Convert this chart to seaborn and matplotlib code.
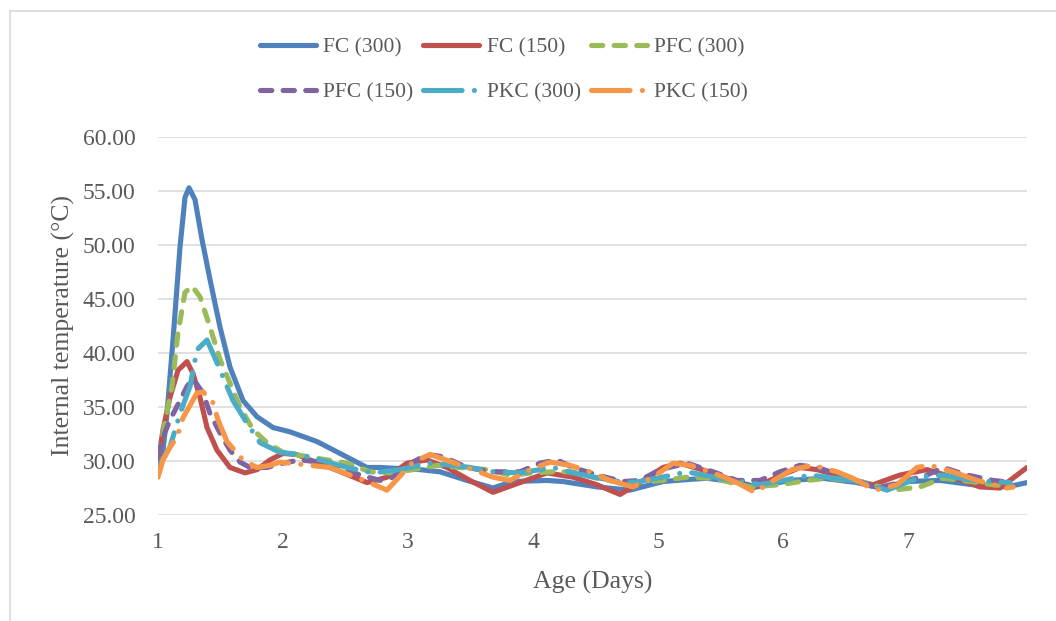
import matplotlib
matplotlib.use("Agg")
import matplotlib.pyplot as plt
from matplotlib.lines import Line2D
import seaborn as sns
import pandas as pd

# ---------------- data ----------------
fc300_x = [1.000, 1.040, 1.072, 1.120, 1.176, 1.216, 1.248, 1.296, 1.352, 1.416, 1.496, 1.576,
           1.680, 1.792, 1.920, 2.056, 2.272, 2.456, 2.672, 2.776, 3.096, 3.256, 3.472, 3.680,
           3.840, 4.112, 4.240, 4.512, 4.776, 5.040, 5.256, 5.392, 5.656, 5.792, 6.056, 6.320,
           6.592, 6.776, 6.992, 7.256, 7.520, 7.792, 7.952]
fc300_y = [29.6, 31.0, 34.4, 41.2, 49.8, 54.4, 55.3, 54.2, 50.5, 46.8, 42.4, 38.7,
           35.6, 34.1, 33.1, 32.7, 31.8, 30.7, 29.4, 29.4, 29.2, 29.0, 28.2, 27.5,
           28.1, 28.2, 28.1, 27.6, 27.3, 28.1, 28.3, 28.4, 28.0, 27.6, 28.2, 28.4,
           28.0, 27.5, 28.1, 28.2, 27.8, 27.6, 28.0]

fc150_x = [1.000, 1.040, 1.096, 1.160, 1.232, 1.280, 1.336, 1.392, 1.472, 1.576, 1.696, 1.792,
           1.896, 2.000, 2.112, 2.216, 2.376, 2.672, 2.832, 2.992, 3.152, 3.312, 3.496, 3.680,
           3.896, 4.112, 4.320, 4.512, 4.696, 4.856, 5.040, 5.176, 5.232, 5.440, 5.760, 5.952,
           6.136, 6.272, 6.512, 6.720, 6.936, 7.152, 7.360, 7.576, 7.736, 7.952]
fc150_y = [29.8, 32.9, 35.9, 38.4, 39.2, 38.1, 35.9, 33.1, 31.0, 29.4, 28.9, 29.2,
           30.1, 30.7, 30.6, 30.1, 29.4, 28.0, 28.5, 29.8, 30.1, 29.4, 28.2, 27.1,
           28.0, 28.9, 28.5, 27.8, 26.9, 28.0, 29.4, 29.8, 29.6, 28.9, 27.5, 28.5,
           29.4, 29.2, 28.4, 27.8, 28.7, 29.2, 28.5, 27.6, 27.5, 29.4]

pfc300_x = [1.000, 1.040, 1.112, 1.160, 1.216, 1.272, 1.336, 1.416, 1.496, 1.576, 1.656, 1.760,
            1.872, 2.000, 2.192, 2.352, 2.512, 2.696, 2.856, 3.040, 3.232, 3.416, 3.632, 3.816,
            4.000, 4.160, 4.320, 4.512, 4.696, 4.912, 5.040, 5.232, 5.440, 5.736, 5.976, 6.192,
            6.352, 6.616, 6.880, 7.096, 7.280, 7.496, 7.680, 7.840]
pfc300_y = [30.4, 32.6, 36.9, 41.9, 45.6, 46.2, 45.2, 42.4, 39.4, 37.2, 35.0, 32.9,
            31.7, 30.8, 30.4, 30.1, 29.8, 29.0, 28.9, 29.2, 29.6, 29.4, 29.2, 28.7,
            28.9, 29.0, 29.0, 28.4, 28.0, 28.1, 28.2, 28.5, 28.4, 27.6, 27.8, 28.2,
            28.4, 28.1, 27.3, 27.6, 28.4, 28.1, 27.8, 27.6]

pfc150_x = [1.000, 1.040, 1.096, 1.176, 1.232, 1.280, 1.360, 1.416, 1.496, 1.576, 1.656, 1.736,
            1.872, 2.000, 2.136, 2.296, 2.456, 2.616, 2.776, 2.880, 2.992, 3.152, 3.280, 3.472,
            3.680, 3.896, 4.056, 4.192, 4.320, 4.512, 4.720, 4.856, 5.016, 5.232, 5.440, 5.632,
            5.816, 5.976, 6.136, 6.272, 6.512, 6.752, 6.936, 7.152, 7.280, 7.472, 7.680, 7.840]
pfc150_y = [30.4, 32.2, 33.8, 35.6, 36.9, 37.6, 36.3, 34.4, 32.6, 31.0, 29.9, 29.4,
            29.4, 29.8, 30.1, 29.9, 29.4, 28.7, 28.2, 28.5, 29.6, 30.6, 30.4, 29.4,
            29.0, 29.0, 29.8, 30.1, 29.4, 28.7, 28.1, 28.2, 29.2, 29.8, 29.0, 28.2,
            28.2, 29.0, 29.6, 29.4, 28.5, 27.5, 28.0, 28.7, 29.4, 28.7, 28.2, 28.0]

pkc300_x = [1.000, 1.096, 1.176, 1.256, 1.312, 1.392, 1.472, 1.552, 1.600, 1.712, 1.816, 1.976,
            2.136, 2.296, 2.512, 2.720, 2.936, 3.176, 3.360, 3.496, 3.680, 3.896, 4.160, 4.320,
            4.536, 4.752, 4.856, 5.072, 5.232, 5.496, 5.816, 6.000, 6.216, 6.616, 6.832, 7.096,
            7.280, 7.520, 7.816]
pkc300_y = [29.4, 31.3, 34.4, 36.9, 40.3, 41.2, 39.1, 36.9, 35.6, 33.5, 31.7, 30.8,
            30.6, 30.1, 29.4, 28.9, 29.2, 29.8, 29.6, 29.4, 29.0, 28.9, 29.4, 28.9,
            28.4, 28.0, 28.1, 28.6, 29.0, 28.4, 27.8, 28.2, 28.7, 28.1, 27.3, 28.5,
            28.7, 28.2, 28.0]

pkc150_x = [1.000, 1.040, 1.096, 1.152, 1.200, 1.312, 1.360, 1.440, 1.480, 1.552, 1.680, 1.792,
            1.896, 1.976, 2.376, 2.672, 2.832, 3.040, 3.176, 3.280, 3.472, 3.680, 3.816, 3.976,
            4.136, 4.296, 4.456, 4.616, 4.800, 4.960, 5.120, 5.256, 5.440, 5.632, 5.776, 5.896,
            6.072, 6.240, 6.432, 6.560, 6.736, 6.912, 7.072, 7.176, 7.360, 7.552, 7.792, 7.840]
pkc150_y = [28.5, 30.1, 31.3, 32.2, 34.0, 36.3, 36.4, 35.4, 33.8, 31.8, 30.1, 29.4,
            29.6, 29.9, 29.4, 28.1, 27.3, 29.9, 30.6, 30.2, 29.4, 28.5, 28.2, 29.2,
            29.9, 29.6, 29.0, 28.2, 27.6, 28.5, 29.8, 29.6, 28.9, 28.0, 27.1, 28.0,
            29.2, 29.6, 29.0, 28.4, 27.3, 27.8, 29.4, 29.6, 29.0, 28.2, 27.5, 27.6]

series_names = ["FC (300)", "FC (150)", "PFC (300)", "PFC (150)", "PKC (300)", "PKC (150)"]
series_x = [fc300_x, fc150_x, pfc300_x, pfc150_x, pkc300_x, pkc150_x]
series_y = [fc300_y, fc150_y, pfc300_y, pfc150_y, pkc300_y, pkc150_y]

x_ticks = [1, 2, 3, 4, 5, 6, 7]
y_ticks = [25, 30, 35, 40, 45, 50, 55, 60]

# ---------------- style ----------------
colors = ["#4F81BD", "#C0504D", "#9BBB59", "#8064A2", "#4BACC6", "#F79646"]
dash_short = (0, (2.2, 2.2))
dash_dot = (0, (7.5, 2.4, 0.01, 2.4))
styles = ["-", "-", dash_short, dash_short, dash_dot, dash_dot]

sns.set_style("white")
plt.rcParams["font.family"] = ["Liberation Serif", "DejaVu Serif"]
text_color = "#595959"

W, H = 1056, 621
fig = plt.figure(figsize=(W / 100, H / 100), dpi=100)
ax = fig.add_axes([158 / W, 1 - 515 / H, (1027 - 158) / W, (515 - 137) / H])

lw = 3.7
for name, xs, ys, c, ls in zip(series_names, series_x, series_y, colors, styles):
    df = pd.DataFrame({"x": xs, "y": ys})
    sns.lineplot(data=df, x="x", y="y", ax=ax, color=c, linewidth=lw, linestyle=ls,
                 label=name, sort=False, estimator=None,
                 dash_capstyle="round", solid_capstyle="round", solid_joinstyle="round",
                 dash_joinstyle="round")

ax.set_xlim(1, 7.952)
ax.set_ylim(25, 60)
ax.set_xticks(x_ticks)
ax.set_yticks(y_ticks)
ax.set_yticklabels([f"{v:.2f}" for v in y_ticks])
ax.grid(axis="y", color="#d9d9d9", linewidth=1.1)
ax.grid(axis="x", visible=False)
for s in ax.spines.values():
    s.set_visible(False)
ax.tick_params(axis="both", length=0, labelsize=17, colors=text_color)
ax.tick_params(axis="x", pad=12)
ax.tick_params(axis="y", pad=16)
ax.set_xlabel("Age (Days)", fontsize=18.5, color=text_color, labelpad=13)
ax.set_ylabel("Internal temperature (°C)", fontsize=18.5, color=text_color, labelpad=6)

handles, labels = ax.get_legend_handles_labels()
ax.get_legend().remove()
order = [0, 3, 1, 4, 2, 5]
leg = fig.legend([handles[i] for i in order], [labels[i] for i in order],
                 ncol=3, loc="center", bbox_to_anchor=(504 / W, 1 - 70 / H),
                 frameon=False, fontsize=15.5, handlelength=2.6, handletextpad=0.35,
                 columnspacing=0.45, labelspacing=1.15, borderpad=0.2)
for t in leg.get_texts():
    t.set_color(text_color)

# chart-area border
border_c = "#d9d9d9"
fig.add_artist(Line2D([10 / W, 10 / W], [0, 1 - 11 / H], transform=fig.transFigure,
                      color=border_c, linewidth=1.2))
fig.add_artist(Line2D([10 / W, 1], [1 - 11 / H, 1 - 11 / H], transform=fig.transFigure,
                      color=border_c, linewidth=1.2))

fig.savefig("out.png", dpi=100, facecolor="white")
